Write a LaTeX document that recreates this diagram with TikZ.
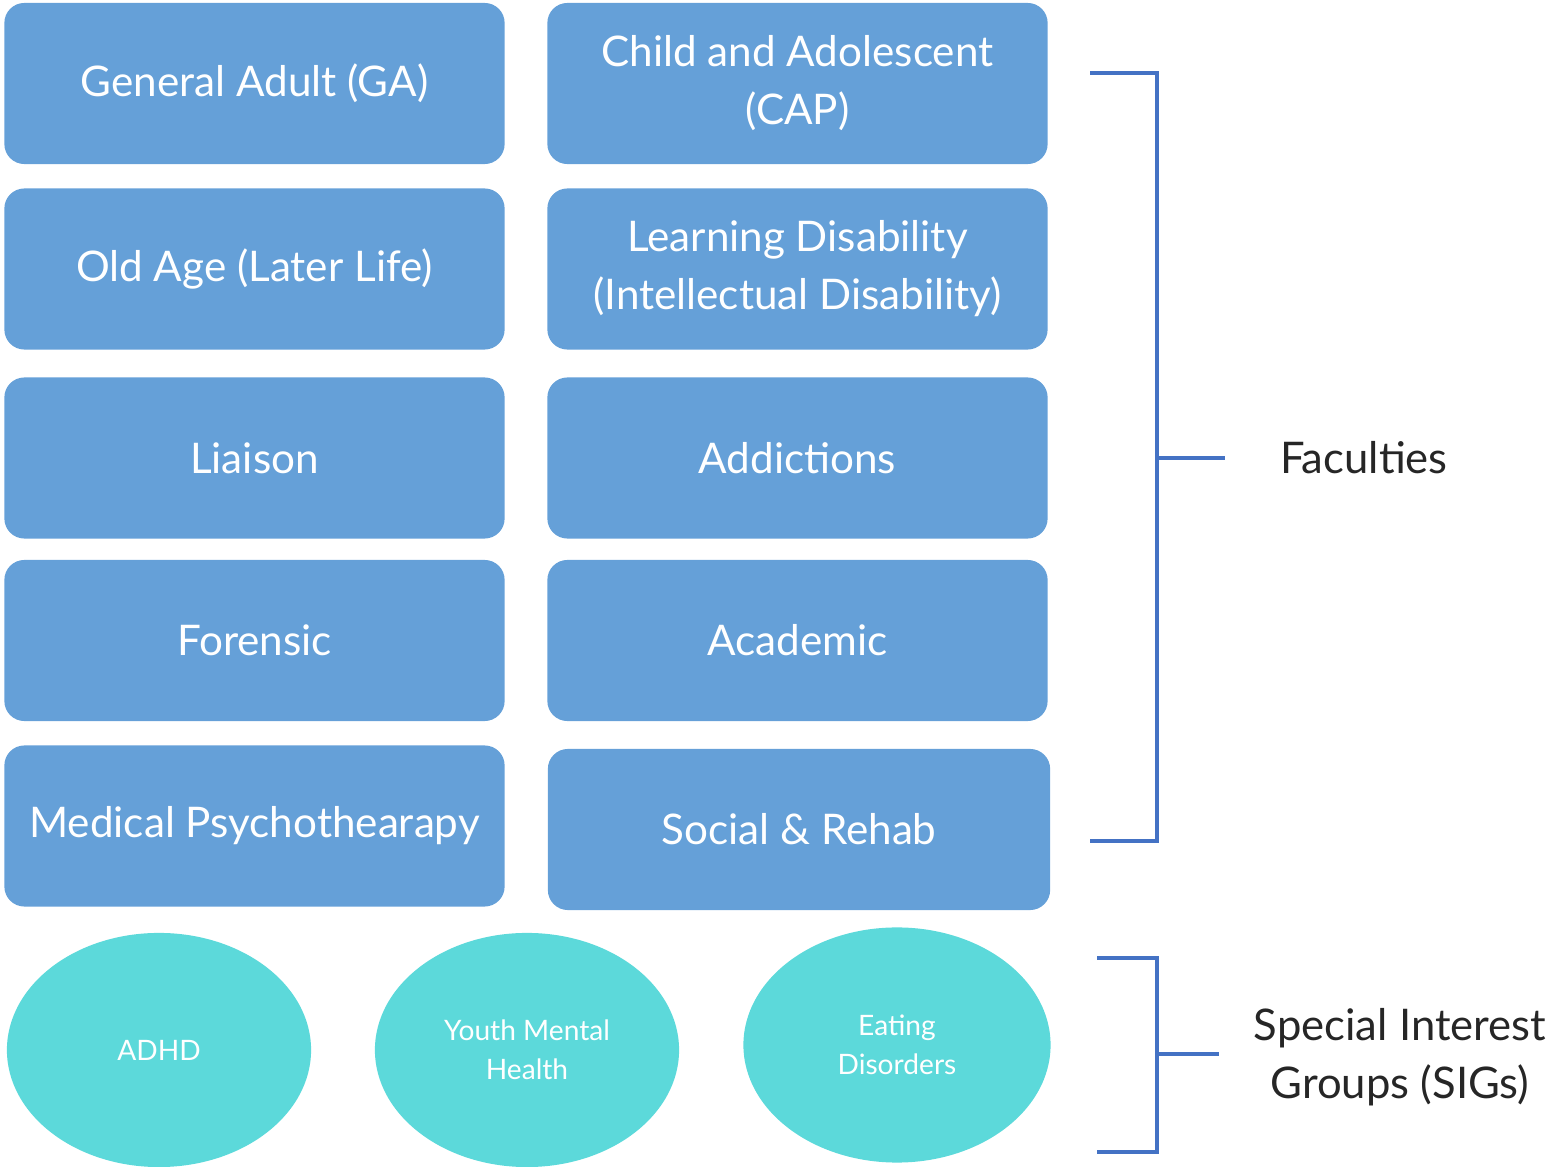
\documentclass[tikz,border=0pt]{standalone}
\usepackage{fontspec}
\setmainfont{Lato}
\usetikzlibrary{shapes.geometric}
\definecolor{facblue}{HTML}{65A0D8}
\definecolor{sigcyan}{HTML}{5CD9DA}
\definecolor{brackblue}{HTML}{4472C4}
\definecolor{labelgrey}{HTML}{262626}
\tikzset{
  faculty/.style={fill=facblue,rounded corners=0.2cm,text=white,align=center,
    minimum width=5cm,minimum height=1.61cm,inner sep=0pt,font=\fontsize{12}{16.5}\selectfont},
  sig/.style={ellipse,fill=sigcyan,text=white,align=center,minimum width=3.04cm,
    minimum height=2.34cm,inner sep=0pt,font=\fontsize{8}{11}\selectfont},
  bracket/.style={brackblue,line width=1pt},
  grouplabel/.style={text=labelgrey,align=center,font=\fontsize{12.4}{16.5}\selectfont}
}
\begin{document}
\begin{tikzpicture}[x=0.01cm,y=-0.01cm]
\useasboundingbox (0,0) rectangle (1556,1167);
\node[faculty] (ga) at (254.5,83.5) {General Adult (GA)};
\node[faculty] (cap) at (797.5,83.5) {Child and Adolescent\\(CAP)};
\node[faculty] (oldage) at (254.5,269) {Old Age (Later Life)};
\node[faculty] (ld) at (797.5,269) {Learning Disability\\(Intellectual Disability)};
\node[faculty] (liaison) at (254.5,458) {Liaison};
\node[faculty] (addict) at (797.5,458) {Addictions};
\node[faculty] (forensic) at (254.5,640.5) {Forensic};
\node[faculty] (academic) at (797.5,640.5) {Academic};
\node[faculty] (medpsy) at (254.5,826) {Medical Psychothearapy};
\node[faculty,minimum width=5.02cm] (social) at (799,829.5) {Social \& Rehab};
\node[sig] (adhd) at (159,1050) {ADHD};
\node[sig] (youth) at (527,1050) {Youth Mental\\Health};
\node[sig,minimum width=3.07cm,minimum height=2.35cm] (eating) at (897,1045) {Eating\\Disorders};
\draw[bracket] (1090,73) -| (1157,841) -- (1090,841);
\draw[bracket] (1157,458) -- (1225,458);
\node[grouplabel] (fac) at (1364,458) {Faculties};
\draw[bracket] (1097,958) -| (1157,1152) -- (1097,1152);
\draw[bracket] (1157,1054) -- (1219,1054);
\node[grouplabel] (sigs) at (1400,1057) {Special Interest\\Groups (SIGs)};
\end{tikzpicture}
\end{document}
